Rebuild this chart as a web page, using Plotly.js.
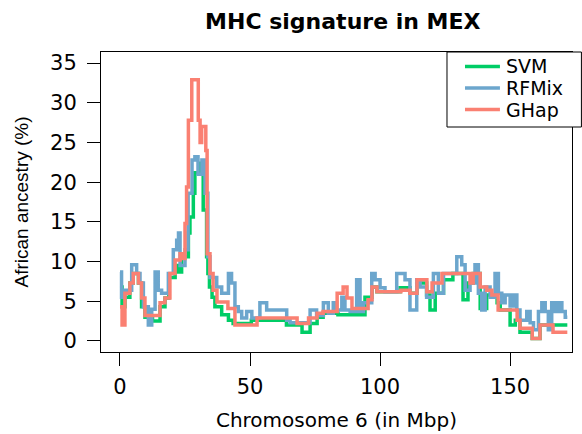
<!DOCTYPE html>
<html>
<head>
<meta charset="utf-8">
<script src="https://cdn.plot.ly/plotly-3.0.1.min.js"></script>
<style>html,body{margin:0;padding:0;background:#fff;}#chart{width:582px;height:434px;}</style>
</head>
<body>
<div id="chart"></div>
<script>
// Chromosome 6 position (Mbp) and African ancestry (%) — step series
const ghapX = [0, 0.8, 1.9, 3.8, 5.1, 7.1, 8.3, 9.6, 15.4, 17.3, 19.2, 21.2, 23.1, 24.2, 25.0, 25.6, 26.3, 27.6, 30.1, 30.8, 31.4, 33.0, 33.5, 34.6, 35.8, 37.3, 41.5, 44.2, 52.7, 68.1, 72.5, 75.8, 78.1, 83.5, 85.8, 87.3, 89.2, 95.4, 96.9, 98.8, 108.0, 111.5, 114.2, 118.0, 120.0, 123.8, 134.6, 135.8, 138.5, 141.0, 143.0, 145.4, 152.7, 153.8, 158.5, 161.5, 166.5, 172.0];
const ghapY = [4.3, 2.0, 6.0, 7.3, 8.5, 7.3, 5.4, 3.2, 4.8, 5.4, 8.5, 10.2, 11.0, 10.4, 14.8, 19.4, 27.8, 32.9, 27.8, 25.0, 27.0, 24.0, 11.0, 8.5, 6.4, 4.9, 4.1, 2.0, 2.9, 2.2, 2.9, 3.5, 3.7, 6.0, 6.8, 5.4, 4.1, 5.2, 6.8, 6.2, 6.4, 6.0, 7.7, 6.2, 7.3, 8.5, 7.3, 8.5, 6.8, 6.4, 5.8, 3.9, 2.6, 1.6, 0.3, 2.0, 1.1, 1.1];

const rfmixX = [0, 0.6, 1.9, 4.5, 6.4, 7.7, 9.0, 10.9, 12.2, 13.5, 14.7, 16.0, 18.6, 20.5, 21.8, 22.5, 23.1, 25.0, 26.2, 27.7, 28.8, 30.0, 31.5, 32.7, 33.8, 34.6, 37.2, 39.1, 41.7, 42.9, 44.2, 45.5, 46.8, 48.7, 50.7, 53.8, 56.4, 64.1, 65.4, 73.1, 75.6, 78.2, 80.1, 82.0, 83.3, 85.3, 86.5, 88.5, 91.0, 92.3, 93.6, 96.8, 98.1, 100.0, 101.9, 106.4, 109.6, 111.5, 114.1, 115.4, 117.9, 120.5, 122.4, 124.4, 129.5, 131.4, 132.7, 134.6, 136.5, 137.8, 139.1, 140.4, 142.3, 144.2, 145.5, 146.8, 148.1, 150.0, 151.3, 152.6, 153.8, 156.4, 157.7, 159.0, 160.9, 162.2, 163.5, 164.7, 166.0, 167.3, 168.6, 169.9, 171.2, 172.0];
const rfmixY = [8.7, 5.5, 6.4, 9.6, 8.5, 7.3, 4.3, 2.0, 4.0, 8.7, 6.4, 6.0, 8.5, 11.5, 12.7, 13.6, 9.5, 11.5, 18.6, 22.8, 23.2, 21.0, 22.8, 18.6, 10.6, 8.0, 6.8, 6.0, 8.5, 7.3, 4.3, 3.7, 2.9, 3.7, 2.9, 4.8, 3.9, 2.6, 2.3, 3.9, 3.2, 4.8, 3.5, 4.8, 3.9, 5.5, 3.9, 3.7, 7.7, 3.7, 4.8, 8.5, 7.7, 6.7, 6.2, 8.5, 7.7, 3.9, 7.7, 6.8, 5.5, 8.5, 6.0, 8.5, 10.6, 9.6, 6.4, 7.3, 9.6, 6.0, 3.9, 6.8, 5.5, 8.5, 6.0, 4.8, 5.8, 4.4, 5.8, 3.9, 2.6, 3.7, 2.3, 1.4, 3.7, 4.8, 3.7, 1.4, 4.8, 3.7, 4.8, 3.7, 3.0, 3.0];

const svmX = [0, 0.8, 1.9, 3.8, 5.1, 7.1, 8.3, 9.6, 12.5, 15.4, 17.3, 18.8, 21.2, 22.5, 23.7, 26.3, 26.9, 28.2, 28.8, 30.8, 32.0, 33.3, 33.8, 34.4, 35.4, 36.5, 39.1, 41.7, 43.5, 50.5, 64.0, 70.0, 73.1, 75.8, 78.1, 83.8, 94.2, 96.9, 98.8, 107.7, 111.5, 114.2, 117.9, 119.2, 121.2, 124.4, 128.0, 131.9, 133.8, 135.8, 138.5, 141.0, 145.0, 146.2, 150.0, 152.0, 153.8, 158.5, 161.5, 166.5, 172.0];
const svmY = [6.8, 4.3, 5.5, 7.3, 8.5, 7.3, 4.3, 3.0, 2.5, 4.3, 5.4, 8.0, 9.5, 8.7, 10.6, 13.6, 15.6, 18.6, 21.2, 22.4, 16.5, 10.6, 8.5, 6.8, 5.5, 4.3, 3.3, 2.6, 2.2, 2.6, 2.0, 1.1, 2.2, 3.0, 3.5, 3.3, 5.5, 6.8, 6.2, 6.7, 6.0, 7.3, 5.8, 3.9, 6.0, 7.7, 8.5, 5.2, 7.3, 8.5, 4.1, 5.8, 4.8, 3.9, 2.0, 2.6, 1.1, 0.3, 2.0, 2.0, 2.0];

const seriesNames = ["SVM", "RFMix", "GHap"];
const seriesColors = ["#00CD66", "#6CA6CD", "#FA8072"];
const xTicks = [0, 50, 100, 150];
const yTicks = [0, 5, 10, 15, 20, 25, 30, 35];

const wide = "DejaVu Sans, Verdana, sans-serif";
const narrow = "Liberation Sans, Arial, Helvetica, sans-serif";
const xs = [svmX, rfmixX, ghapX], ys = [svmY, rfmixY, ghapY];
const data = seriesNames.map((n, i) => ({
  type: "scatter", mode: "lines", name: n, x: xs[i], y: ys[i],
  line: {shape: "hv", color: seriesColors[i], width: 3.5}, showlegend: false
}));

const axisCommon = {
  showline: true, mirror: true, linecolor: "#000", linewidth: 1,
  ticks: "outside", ticklen: 13, tickwidth: 1, tickcolor: "#000",
  showgrid: false, zeroline: false,
  tickfont: {family: wide, size: 21, color: "#000"}
};

// legend drawn as a framed key in paper coordinates
const legX0 = 0.7346, legX1 = 1.02, legY0 = 0.75, legY1 = 1.0;
const keyRows = [0.9517, 0.88, 0.8083];
const shapes = [{type: "rect", xref: "paper", yref: "paper", x0: legX0, x1: legX1, y0: legY0, y1: legY1,
  line: {color: "#000", width: 1}, fillcolor: "#fff", layer: "above"}];
const annotations = [];
seriesNames.forEach((n, i) => {
  shapes.push({type: "line", xref: "paper", yref: "paper", x0: 0.7728, x1: 0.847, y0: keyRows[i], y1: keyRows[i],
    line: {color: seriesColors[i], width: 3.5}, layer: "above"});
  annotations.push({xref: "paper", yref: "paper", x: 0.858, y: keyRows[i], xanchor: "left", yanchor: "middle",
    text: n, showarrow: false, borderpad: 0, font: {family: wide, size: 19, color: "#000"}});
});

const layout = {
  width: 582, height: 434,
  margin: {l: 101, r: 10, t: 52, b: 82},
  paper_bgcolor: "#fff", plot_bgcolor: "#fff",
  font: {family: wide, color: "#000"},
  showlegend: false,
  title: {text: "<b>MHC signature in MEX</b>", font: {family: wide, size: 22, color: "#000"},
          x: 0.589, xanchor: "center", y: 0.95, yanchor: "middle", yref: "container"},
  xaxis: Object.assign({}, axisCommon, {
    range: [-7.3, 173.8], tickvals: xTicks, ticktext: xTicks.map(String), ticklabelstandoff: 3,
    title: {text: "Chromosome 6 (in Mbp)", font: {family: wide, size: 20, color: "#000"}, standoff: 14}
  }),
  yaxis: Object.assign({}, axisCommon, {
    range: [-1.39, 36.4], tickvals: yTicks, ticktext: yTicks.map(String), ticklabelstandoff: 6,
    title: {text: "African ancestry (%)", font: {family: narrow, size: 19, color: "#000"}, standoff: 16}
  }),
  shapes: shapes,
  annotations: annotations
};
Plotly.newPlot("chart", data, layout, {displayModeBar: false, staticPlot: true});
</script>
</body>
</html>
